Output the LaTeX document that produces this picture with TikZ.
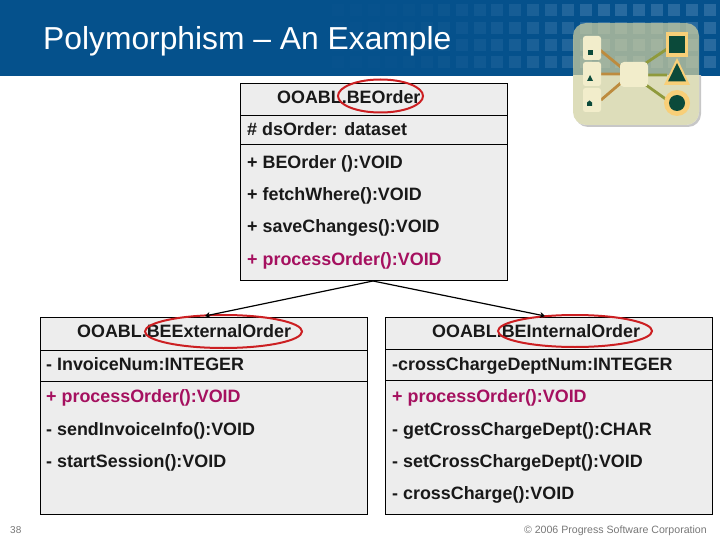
\documentclass[tikz,border=0pt]{standalone}
\usepackage{fontspec}
\setmainfont{Liberation Sans}
\usetikzlibrary{arrows.meta}
\definecolor{hdr}{HTML}{05518C}
\definecolor{hdrb}{HTML}{2F6FA3}
\definecolor{boxf}{HTML}{EDEDED}
\definecolor{magent}{HTML}{A5105F}
\definecolor{ringred}{HTML}{CC1F22}
\definecolor{iconbg}{HTML}{D0D0A0}
\definecolor{cream}{HTML}{F2EDCB}
\definecolor{dkgreen}{HTML}{0B4A3A}
\definecolor{gold}{HTML}{F8CF78}
\definecolor{brownl}{HTML}{BD8B3E}
\definecolor{olivel}{HTML}{8F9A3C}
\definecolor{footg}{HTML}{777777}
\tikzset{x=1pt,y=-1pt,
 umlbox/.style={draw=black,line width=0.8pt,fill=boxf},
 member/.style={anchor=base west,inner sep=0pt,font=\fontsize{17.9}{20}\selectfont\bfseries,text=black!90},
 hot/.style={member,text=magent},
 ring/.style={draw=ringred,line width=2pt,fill=none},
 inherit/.style={draw=black,line width=1.2pt,-{Stealth[length=5pt,width=6pt]}},
 foot/.style={anchor=base west,inner sep=0pt,text=footg},
 glyph/.style={fill=dkgreen,draw=none},
 chip/.style={fill=cream,draw=none,rounded corners=2.5pt}}
\begin{document}
\begin{tikzpicture}
\useasboundingbox (0,0) rectangle (720,540);
\fill[hdr] (0,0) rectangle (720,76);
% header pattern, fading to the left
\foreach \k in {-12,...,9}{
  \pgfmathsetmacro{\cx}{550.5+17.7*\k}
  \pgfmathsetmacro{\op}{max(0.05,min(0.85,((\cx-320)/300)^2))}
  \foreach \cy in {10,28,45,62}
    \fill[hdrb,opacity=\op] (\cx-6,\cy-6) rectangle (\cx+6,\cy+6);
}
\node[anchor=base west,inner sep=0pt,text=white,font=\fontsize{31.8}{34}\selectfont] (title) at (43,50) {Polymorphism – An Example};
% icon
\begin{scope}
\clip (560,76) rectangle (715,135);
\fill[black!22,rounded corners=13pt] (575,26) rectangle (701,127);
\fill[white,rounded corners=13pt] (573,23) rectangle (699,125);
\end{scope}
\fill[iconbg,opacity=0.72,rounded corners=13pt] (573,23) rectangle (699,125);
\draw[brownl,line width=2.8pt] (600,50) -- (622,68) (600,74) -- (622,74) (601,100) -- (622,82);
\draw[olivel,line width=2.8pt] (646,63) -- (667,49) (648,75) -- (667,75) (646,85) -- (667,100);
\node[chip,minimum width=18pt,minimum height=24pt,inner sep=0pt] (c1) at (592,48) {};
\node[chip,minimum width=18pt,minimum height=24pt,inner sep=0pt] (c2) at (592,74) {};
\node[chip,minimum width=18pt,minimum height=24pt,inner sep=0pt] (c3) at (592,100) {};
\fill[glyph] (587.5,50) rectangle (592.5,55);
\fill[glyph] (587,81) -- (590,75) -- (593,81) -- cycle;
\fill[glyph] (587,106) -- (587,102.5) -- (589.5,100.5) -- (592,102.5) -- (592,106) -- cycle;
\node[chip,minimum width=28pt,minimum height=25pt,inner sep=0pt,rounded corners=4pt] (hub) at (634,74.5) {};
\fill[gold] (666,32) rectangle (688,57);
\fill[glyph] (669,36) rectangle (685,53);
\fill[gold] (664,85) -- (677,58) -- (690,85) -- cycle;
\fill[glyph] (668,81.5) -- (677,63) -- (686,81.5) -- cycle;
\fill[gold] (677,103) circle (13);
\fill[glyph] (677,103) circle (8);
% top class
\draw[umlbox] (240,83) rectangle (507,280);
\foreach \yy in {115,144} \draw[line width=0.8pt] (240,\yy) -- (507,\yy);
\node[member] (tn) at (277,104) {OOABL.BEOrder};
\node[member] (t1) at (247,136) {\# dsOrder: dataset};
\node[member] (t2) at (247,168.5) {+ BEOrder ():VOID};
\node[member] (t3) at (247,200.5) {+ fetchWhere():VOID};
\node[member] (t4) at (247,233) {+ saveChanges():VOID};
\node[hot] (t5) at (247,265.5) {+ processOrder():VOID};
\draw[ring] (380.5,96) ellipse [x radius=42.5, y radius=16.5];
% left class
\draw[umlbox] (40,317) rectangle (367,514);
\foreach \yy in {350,381} \draw[line width=0.8pt] (40,\yy) -- (367,\yy);
\node[member] (ln) at (77,337.5) {OOABL.BEExternalOrder};
\node[member] (l1) at (46,370.5) {- InvoiceNum:INTEGER};
\node[hot] (l2) at (46,402.5) {+ processOrder():VOID};
\node[member] (l3) at (46,435.5) {- sendInvoiceInfo():VOID};
\node[member] (l4) at (46,467.5) {- startSession():VOID};
\draw[ring] (223.5,331.5) ellipse [x radius=78.5, y radius=16.5];
% right class
\draw[umlbox] (385,317) rectangle (712,514);
\foreach \yy in {349,380} \draw[line width=0.8pt] (385,\yy) -- (712,\yy);
\node[member] (rn) at (432,337.5) {OOABL.BEInternalOrder};
\node[member] (r1) at (392,370) {-crossChargeDeptNum:INTEGER};
\node[hot] (r2) at (392,402.5) {+ processOrder():VOID};
\node[member] (r3) at (392,435) {- getCrossChargeDept():CHAR};
\node[member] (r4) at (392,467) {- setCrossChargeDept():VOID};
\node[member] (r5) at (392,499.5) {- crossCharge():VOID};
\draw[ring] (575,331) ellipse [x radius=77, y radius=16];
% connectors
\coordinate (apex) at (373,281);
\coordinate (lt) at (205,316);
\coordinate (rt) at (545,316);
\draw[inherit] (apex) -- (lt);
\draw[inherit] (apex) -- (rt);
% footer
\node[foot,font=\fontsize{10}{12}\selectfont] (pg) at (10,533) {38};
\node[foot,font=\fontsize{10.6}{13}\selectfont,anchor=base east] (copy) at (707,533) {© 2006 Progress Software Corporation};
\end{tikzpicture}
\end{document}
